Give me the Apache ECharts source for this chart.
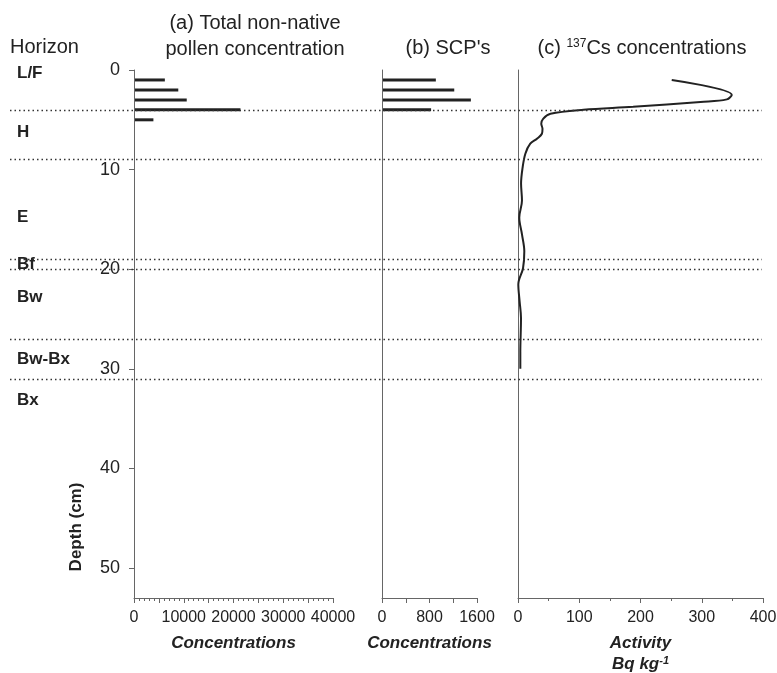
<!DOCTYPE html>
<html>
<head>
<meta charset="utf-8">
<script src="https://cdn.jsdelivr.net/npm/echarts@6/dist/echarts.min.js"></script>
<style>
html, body { margin: 0; padding: 0; background: #fff; }
#main { width: 777px; height: 673px; }
</style>
</head>
<body>
<div id="main"></div>
<script>
// (a) total non-native pollen, depth (cm) / concentration
var pollenDepth = [1, 2, 3, 4, 5];
var pollenValue = [6000, 8700, 10400, 21200, 3700];
// (b) SCP's
var scpDepth = [1, 2, 3, 4];
var scpValue = [890, 1200, 1480, 810];
// (c) 137Cs activity profile
var csDepth = [1, 2.5, 2.95, 3.2, 3.7, 4.0, 4.4, 4.9, 5.4, 5.9, 6.4, 6.9, 7.4, 8.4, 9.8, 11.4, 13.1, 14.8, 16.5, 18.2, 19.9, 21.5, 23.2, 24.9, 28.3, 30];
var csValue = [251, 349, 341, 298, 188, 107, 53, 41, 38, 40, 39, 31, 20, 12, 7.5, 5, 6.5, 2.1, 6.5, 10.3, 8.2, 0.5, 2.6, 4.9, 3.8, 3.8];
// soil horizons
var horizonBounds = [4, 9, 19, 20, 27, 31];
var horizonNames = ['L/F', 'H', 'E', 'Bf', 'Bw', 'Bw-Bx', 'Bx'];
var horizonLabelDepth = [0.3, 6.3, 14.8, 19.5, 22.8, 29, 33.2];
// tick labels
var depthTicks = [0, 10, 20, 30, 40, 50];
var pollenTicks = [0, 10000, 20000, 30000, 40000];
var scpTicks = [0, 800, 1600];
var csTicks = [0, 100, 200, 300, 400];

var FONT = "'Liberation Sans', Arial, Helvetica, sans-serif";
var INK = '#222';
var AXIS = '#666';
var DEPTH_MAX = 53;

var chart = echarts.init(document.getElementById('main'));

function pairs(xs, ys) {
  return xs.map(function (v, i) { return [v, ys[i]]; });
}

// thin horizontal bars drawn through the axes' own scales
function barItem(params, api) {
  var a = api.coord([0, api.value(1)]);
  var b = api.coord([api.value(0), api.value(1)]);
  return {
    type: 'rect',
    shape: { x: a[0] + 1, y: a[1] - 1.5, width: b[0] - a[0], height: 3 },
    style: { fill: INK }
  };
}

function depthAxis(gridIndex, showLabels) {
  return {
    type: 'value', gridIndex: gridIndex, inverse: true, min: 0, max: DEPTH_MAX,
    axisLine: { show: true, onZero: false, lineStyle: { color: AXIS, width: 1 } },
    axisTick: { show: showLabels, customValues: depthTicks, length: 5, lineStyle: { color: AXIS } },
    axisLabel: { show: showLabels, customValues: depthTicks, margin: 14, fontSize: 18, color: INK, fontFamily: FONT },
    splitLine: { show: false }
  };
}

function concAxis(gridIndex, max, interval, labels, minorSplit, name) {
  return {
    type: 'value', gridIndex: gridIndex, position: 'bottom', min: 0, max: max, interval: interval,
    axisLine: { onZero: false, lineStyle: { color: AXIS, width: 1 } },
    axisTick: { length: 5, lineStyle: { color: AXIS } },
    minorTick: { show: minorSplit > 0, splitNumber: minorSplit || 1, length: 3, lineStyle: { color: AXIS } },
    axisLabel: {
      customValues: labels, margin: 12, fontSize: 16, color: INK, fontFamily: FONT,
      formatter: function (v) { return String(v); }
    },
    splitLine: { show: false },
    minorSplitLine: { show: false },
    name: name,
    nameLocation: 'middle',
    nameGap: 35,
    nameTextStyle: {
      fontSize: 17, fontWeight: 'bold', fontStyle: 'italic', color: INK, fontFamily: FONT, lineHeight: 21,
      rich: { sup: { fontSize: 11, fontWeight: 'bold', fontStyle: 'italic', color: INK, fontFamily: FONT, padding: [0, 0, 8, 0] } }
    }
  };
}

chart.setOption({
  backgroundColor: '#fff',
  animation: false,
  grid: [
    { left: 134, top: 70, width: 199, height: 528, containLabel: false, outerBoundsMode: 'none' },
    { left: 382, top: 70, width: 95, height: 528, containLabel: false, outerBoundsMode: 'none' },
    { left: 518, top: 70, width: 245, height: 528, containLabel: false, outerBoundsMode: 'none' },
    { left: 10, top: 70, width: 752, height: 528, containLabel: false, outerBoundsMode: 'none' }
  ],
  xAxis: [
    concAxis(0, 40000, 5000, pollenTicks, 5, 'Concentrations'),
    concAxis(1, 1600, 400, scpTicks, 0, 'Concentrations'),
    concAxis(2, 400, 100, csTicks, 2, 'Activity\nBq kg{sup|-1}'),
    { type: 'value', gridIndex: 3, min: 0, max: 1, show: false }
  ],
  yAxis: [
    depthAxis(0, true),
    depthAxis(1, false),
    depthAxis(2, false),
    { type: 'value', gridIndex: 3, inverse: true, min: 0, max: DEPTH_MAX, show: false }
  ],
  series: [
    {
      type: 'custom', xAxisIndex: 0, yAxisIndex: 0,
      data: pairs(pollenValue, pollenDepth), renderItem: barItem, silent: true
    },
    {
      type: 'custom', xAxisIndex: 1, yAxisIndex: 1,
      data: pairs(scpValue, scpDepth), renderItem: barItem, silent: true
    },
    {
      type: 'line', xAxisIndex: 2, yAxisIndex: 2,
      data: pairs(csValue, csDepth),
      smooth: 0.35, symbol: 'none', clip: false,
      lineStyle: { color: INK, width: 2 }
    },
    {
      // horizon names + dotted horizon boundaries across all panels
      type: 'scatter', xAxisIndex: 3, yAxisIndex: 3, silent: true,
      symbolSize: 0, clip: false,
      itemStyle: { opacity: 1 },
      data: horizonNames.map(function (n, i) { return { value: [0, horizonLabelDepth[i]], name: n }; }),
      label: {
        show: true, position: 'right', distance: 7, opacity: 1,
        formatter: '{b}', fontSize: 17, fontWeight: 'bold', color: INK, fontFamily: FONT
      },
      markLine: {
        silent: true, symbol: 'none', animation: false,
        label: { show: false },
        lineStyle: { color: '#333', width: 1.3, type: [1.5, 3], opacity: 1 },
        data: horizonBounds.map(function (d) { return { yAxis: d }; })
      }
    }
  ],
  graphic: [
    { type: 'text', left: 10, top: 37, style: { text: 'Horizon', font: '20px ' + FONT, fill: INK } },
    { type: 'text', x: 255, y: 23, style: { text: '(a) Total non-native', font: '20px ' + FONT, fill: INK, align: 'center', verticalAlign: 'middle' } },
    { type: 'text', x: 255, y: 49, style: { text: 'pollen concentration', font: '20px ' + FONT, fill: INK, align: 'center', verticalAlign: 'middle' } },
    { type: 'text', x: 448, y: 48, style: { text: "(b) SCP's", font: '20px ' + FONT, fill: INK, align: 'center', verticalAlign: 'middle' } },
    {
      type: 'text', x: 642, y: 48,
      style: {
        text: '(c) {sup|137}Cs concentrations', font: '20px ' + FONT, fill: INK, align: 'center', verticalAlign: 'middle',
        rich: { sup: { fontSize: 12, fontFamily: FONT, fill: INK, padding: [0, 0, 9, 0] } }
      }
    },
    {
      type: 'text', x: 76, y: 527, rotation: Math.PI / 2,
      style: { text: 'Depth (cm)', font: 'bold 17px ' + FONT, fill: INK, align: 'center', verticalAlign: 'middle' }
    }
  ]
});
</script>
</body>
</html>
